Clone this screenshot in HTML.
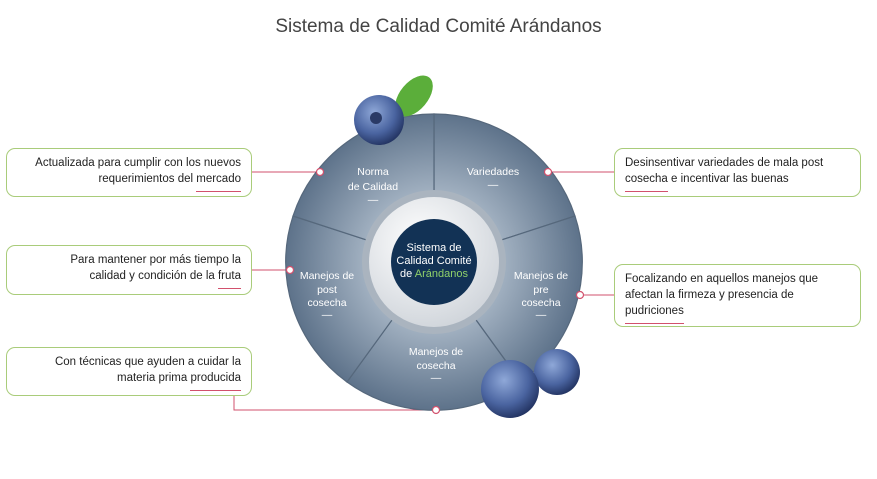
<!DOCTYPE html>
<html><head><meta charset="utf-8"><style>
body{margin:0;background:#fff;width:877px;height:479px;overflow:hidden;font-family:"Liberation Sans",sans-serif}
.box{position:absolute;border:1px solid #a9cc7a;border-radius:9px;background:#fff;font-size:11.5px;color:#222;line-height:16px;box-sizing:border-box;padding:6px 10px}
.l{text-align:right}
.u{display:inline-block;position:relative}
.u:after{content:"";position:absolute;left:0;right:0;bottom:-5px;height:1px;background:#d2516d}
</style></head><body>
<div style="position:absolute;left:0;width:877px;top:16px;text-align:center;font-size:19px;color:#444">Sistema de Calidad Comité Arándanos</div>
<svg width="877" height="479" style="position:absolute;left:0;top:0">
<defs>
<radialGradient id="seg" cx="434" cy="262" r="150" gradientUnits="userSpaceOnUse">
<stop offset="0.45" stop-color="#a3b2c2"/><stop offset="1" stop-color="#5c7189"/></radialGradient>
<radialGradient id="ring" cx="0.4" cy="0.35" r="0.7"><stop offset="0" stop-color="#fff"/><stop offset="1" stop-color="#cfd4da"/></radialGradient>
<radialGradient id="bb" cx="0.4" cy="0.35" r="0.7"><stop offset="0" stop-color="#8fa8d8"/><stop offset="0.6" stop-color="#4a64a0"/><stop offset="1" stop-color="#1f2f5c"/></radialGradient>
</defs>
<g stroke="#d2516d" stroke-width="1" fill="none">
<path d="M252 172H320"/><path d="M252 270H290"/><path d="M234 396V410H436"/>
<path d="M548 172H614"/><path d="M580 295H614"/>
</g>
<g stroke="#56687c" stroke-width="1.2" fill="url(#seg)">
<path d="M434 262L434 114A148 148 0 0 1 575 216Z"/>
<path d="M434 262L575 216A148 148 0 0 1 521 382Z"/>
<path d="M434 262L521 382A148 148 0 0 1 347 382Z"/>
<path d="M434 262L347 382A148 148 0 0 1 293 216Z"/>
<path d="M434 262L293 216A148 148 0 0 1 434 114Z"/>
</g>
<circle cx="434" cy="262" r="72" fill="#aab4bf"/>
<circle cx="434" cy="262" r="65" fill="url(#ring)"/>
<circle cx="434" cy="262" r="43" fill="#123255"/>
<g fill="#fff" stroke="#d2516d" stroke-width="1.2">
<circle cx="320" cy="172" r="3.5"/><circle cx="290" cy="270" r="3.5"/><circle cx="436" cy="410" r="3.5"/>
<circle cx="548" cy="172" r="3.5"/><circle cx="580" cy="295" r="3.5"/></g>
<ellipse cx="414" cy="96" rx="14" ry="24" transform="rotate(40 414 96)" fill="#5bae3a"/>
<circle cx="379" cy="120" r="25" fill="url(#bb)"/><circle cx="376" cy="118" r="6" fill="#2a3a66"/>
<circle cx="557" cy="372" r="23" fill="url(#bb)"/>
<circle cx="510" cy="389" r="29" fill="url(#bb)"/>
<g fill="#fff" font-size="10.5" text-anchor="middle" font-family="Liberation Sans,sans-serif">
<text x="373" y="175">Norma</text><text x="373" y="190">de Calidad</text><text x="373" y="203">—</text>
<text x="493" y="175">Variedades</text><text x="493" y="188">—</text>
<text x="541" y="279">Manejos de</text><text x="541" y="293">pre</text><text x="541" y="306">cosecha</text><text x="541" y="318">—</text>
<text x="327" y="279">Manejos de</text><text x="327" y="293">post</text><text x="327" y="306">cosecha</text><text x="327" y="318">—</text>
<text x="436" y="355">Manejos de</text><text x="436" y="369">cosecha</text><text x="436" y="381">—</text>
<text x="434" y="251" font-size="11">Sistema de</text><text x="434" y="264" font-size="11">Calidad Comité</text>
<text x="434" y="277" font-size="11">de <tspan fill="#8fd06a">Arándanos</tspan></text>
</g>
</svg>
<div class="box l" style="left:6px;top:148px;width:246px;height:49px">Actualizada para cumplir con los nuevos<br>requerimientos del <span class="u">mercado</span></div>
<div class="box l" style="left:6px;top:245px;width:246px;height:50px">Para mantener por más tiempo la<br>calidad y condición de la <span class="u">fruta</span></div>
<div class="box l" style="left:6px;top:347px;width:246px;height:49px">Con técnicas que ayuden a cuidar la<br>materia prima <span class="u">producida</span></div>
<div class="box" style="left:614px;top:148px;width:247px;height:49px">Desinsentivar variedades de mala post<br><span class="u">cosecha</span> e incentivar las buenas</div>
<div class="box" style="left:614px;top:264px;width:247px;height:63px">Focalizando en aquellos manejos que<br>afectan la firmeza y presencia de<br><span class="u">pudriciones</span></div>
</body></html>
